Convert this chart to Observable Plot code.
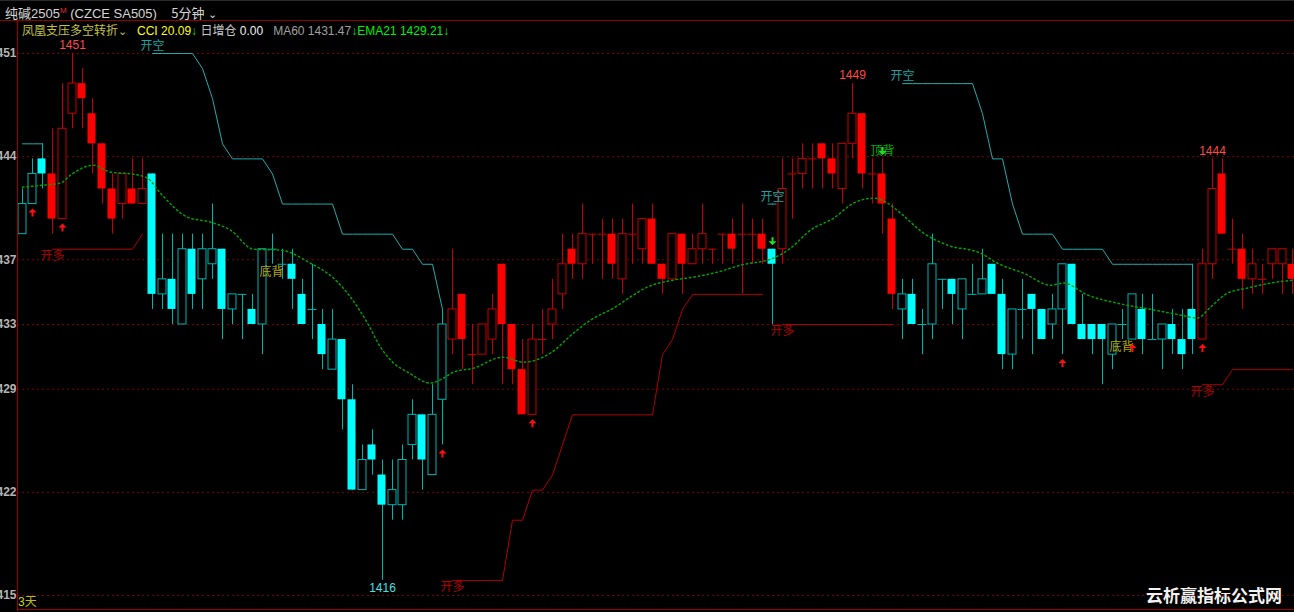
<!DOCTYPE html>
<html>
<head>
<meta charset="utf-8">
<script src="https://cdn.jsdelivr.net/npm/d3@7"></script>
<script src="https://cdn.jsdelivr.net/npm/@observablehq/plot@0.6"></script>
<style>
  html, body { margin: 0; padding: 0; background: #000; }
  #wrap { position: relative; width: 1294px; height: 612px; overflow: hidden; background: #000;
          font-family: "Liberation Sans", "Noto Sans CJK SC", sans-serif; }
  #chart { position: absolute; left: 0; top: 0; }
  .abs { position: absolute; white-space: nowrap; }
  #hdr { left: 5px; top: 3px; font-size: 13px; color: #d6d6d6; line-height: 16px; }
  #hdr sup { color: #e03030; font-size: 8px; vertical-align: 5px; }
  #legend { left: 22px; top: 22px; font-size: 12px; line-height: 16px; }
  #topline { left: 0; top: 20px; width: 1294px; height: 1px; background: #8c0000; }
  #leftline { left: 17px; top: 20px; width: 1px; height: 591px; background: #9a0000; }
  #botline { left: 17px; top: 609px; width: 1277px; height: 1px; background: #9a0000; }
  #topedge { left: 0; top: 0; width: 1294px; height: 1px; background: #2a2a2a; }
  #days { left: 18px; top: 594px; font-size: 12px; color: #d2d200; line-height: 14px; }
  #wm { left: 1146px; top: 585px; font-size: 17px; font-weight: 700; color: #f2f2f2;
        font-family: "Noto Sans CJK SC", sans-serif; line-height: 20px; letter-spacing: 0px; }
</style>
</head>
<body>
<div id="wrap">
  <div id="chart"></div>
  <div id="topedge" class="abs"></div>
  <div id="hdr" class="abs"><span style="font-family:'Noto Sans CJK SC'">纯碱</span>2505<sup>M</sup> (CZCE SA505)&nbsp;&nbsp;&nbsp;&nbsp;<span style="font-family:'Noto Sans CJK SC'">5分钟</span> <span style="font-size:11px">&#8964;</span></div>
  <div id="topline" class="abs"></div>
  <div id="leftline" class="abs"></div>
  <div id="botline" class="abs"></div>
  <div id="legend" class="abs"><span style="color:#c4c44a;font-family:'Noto Sans CJK SC'">凤凰支压多空转折</span><span style="color:#c4c44a;font-size:11px">&#8964;</span>&nbsp;&nbsp;&nbsp;<span style="color:#ffff00">CCI 20.09</span><span style="color:#00e000">&#8595;</span>&nbsp;<span style="color:#c8c8c8;font-family:'Noto Sans CJK SC'">日增仓</span> <span style="color:#f0f0f0">0.00</span>&nbsp;&nbsp;&nbsp;<span style="color:#a0a0a0">MA60 1431.47</span><span style="color:#00e000">&#8595;</span><span style="color:#00f000">EMA21 1429.21</span><span style="color:#00e000">&#8595;</span></div>
  <div id="days" class="abs">3<span style="font-family:'Noto Sans CJK SC';color:#bcbc00">天</span></div>
  <div id="wm" class="abs">云析赢指标公式网</div>
</div>
<script>
// ---------- data (5-minute bars, index 1..128) ----------
const opens = [
  1439,1441,1444,1443,1440,1447,1449,1447,1445,1442,
  1441,1442,1441,1443,1435,1436,1433,1438,1436,1437,
  1438,1434,1435,1434,1433,1438,1437,1437,1435,1434,
  1433,1430,1432,1428,1422,1425,1423,1421,1421,1425,
  1427,1423,1428,1432,1435,1431,1431,1432,1437,1433,
  1430,1427,1432,1433,1435,1438,1437,1439,1439,1439,
  1436,1439,1438,1440,1437,1436,1439,1437,1438,1438,
  1439,1439,1439,1439,1439,1438,1438,1443,1443,1444,
  1445,1444,1442,1445,1447,1443,1443,1440,1434,1435,
  1433,1433,1436,1436,1434,1435,1435,1437,1435,1431,
  1434,1435,1434,1433,1434,1437,1433,1433,1433,1431,
  1433,1432,1434,1432,1432,1433,1432,1434,1432,1437,
  1443,1438,1438,1436,1436,1437,1437,1437];
const highs = [
  1442,1444,1445,1446,1449,1451,1450,1448,1445,1443,
  1443,1444,1444,1443,1439,1439,1439,1439,1439,1441,
  1438,1435,1435,1435,1438,1439,1438,1438,1436,1437,
  1434,1434,1432,1429,1425,1426,1424,1424,1425,1428,
  1427,1429,1434,1438,1435,1433,1433,1435,1437,1433,
  1432,1433,1434,1436,1439,1439,1441,1439,1440,1440,
  1440,1441,1440,1441,1437,1439,1439,1439,1441,1438,
  1439,1440,1441,1440,1440,1438,1444,1444,1445,1445,
  1445,1445,1445,1449,1447,1444,1444,1441,1436,1436,
  1434,1439,1436,1436,1436,1437,1438,1437,1436,1434,
  1436,1435,1434,1435,1437,1437,1435,1433,1433,1433,
  1434,1435,1435,1435,1433,1434,1434,1437,1438,1444,
  1444,1440,1439,1438,1437,1438,1438,1438];
const lows = [
  1439,1441,1442,1439,1440,1446,1446,1443,1441,1439,
  1440,1441,1441,1434,1434,1433,1433,1434,1434,1436,
  1432,1433,1432,1433,1431,1437,1436,1434,1433,1432,
  1430,1430,1426,1422,1422,1423,1416,1420,1420,1424,
  1422,1423,1425,1431,1430,1429,1431,1431,1429,1429,
  1427,1427,1431,1432,1434,1436,1436,1437,1436,1436,
  1435,1437,1437,1437,1435,1436,1435,1437,1437,1437,
  1437,1437,1435,1437,1437,1433,1437,1440,1442,1442,
  1442,1442,1441,1444,1442,1441,1439,1434,1432,1433,
  1431,1432,1434,1433,1432,1435,1435,1435,1430,1430,
  1432,1431,1432,1432,1431,1433,1432,1431,1429,1430,
  1432,1432,1431,1432,1430,1431,1430,1431,1432,1436,
  1439,1437,1434,1435,1435,1436,1435,1435];
const closes = [
  1441,1443,1443,1440,1446,1449,1448,1445,1442,1440,
  1443,1441,1442,1435,1436,1434,1438,1435,1438,1438,
  1434,1435,1435,1433,1438,1438,1437,1436,1433,1434,
  1431,1432,1428,1422,1424,1424,1421,1422,1424,1427,
  1424,1427,1433,1434,1432,1431,1433,1434,1433,1430,
  1427,1432,1432,1434,1437,1437,1439,1439,1439,1437,
  1439,1439,1440,1437,1436,1439,1437,1438,1439,1438,
  1439,1438,1439,1439,1438,1437,1442,1443,1444,1444,
  1444,1443,1445,1447,1443,1443,1441,1435,1435,1433,
  1433,1437,1436,1435,1436,1435,1436,1435,1431,1434,
  1434,1434,1432,1434,1437,1433,1432,1432,1432,1433,
  1433,1435,1432,1432,1433,1432,1431,1432,1437,1442,
  1439,1438,1436,1437,1436,1438,1438,1436];
// indicator regime per bar: R = long (red), C = short (cyan)
const regime = "CCCRRRRRRRRRRCCCCCCCCCCCCCCCCCCCCCCCCCCCCCCRRRRRRRRRRRRRRRRRRRRRRRRRRRRRRRRCRRRRRRRRRRRRCCCCCCCCCCCCCCCCCCCCCCCCCCCCCCRRRRRRRRRR";

// EMA21 (dotted green) read at bar positions
const emaIdx = [1,3,4.8,5.8,8.1,9.8,12.1,13.5,14.8,17.5,19.8,21.8,24.1,26.8,29.8,32.1,33.5,35.5,36.8,38.1,39.5,41.8,43.1,44.1,46.1,49,51.1,53.8,56.1,57.8,60.1,62.1,63.5,66.1,68.1,70.5,72.8,76.1,77.8,79.8,82.1,84.1,86.1,87.5,88.8,91.1,93.5,96.8,98.5,101.1,103.8,105.1,107.5,110.8,114.1,116.8,118.5,119.8,121.5,123.5,125.8,128.1];
const emaVal = [1442.12,1442.25,1442.39,1442.92,1443.58,1443.12,1442.98,1442.72,1441.72,1440.13,1439.8,1439.27,1438.0,1437.94,1437.07,1436.08,1435.08,1433.09,1431.5,1430.44,1429.84,1429.11,1429.44,1429.84,1430.1,1430.83,1430.5,1431.1,1432.43,1433.29,1434.09,1434.96,1435.49,1435.95,1436.15,1436.48,1436.94,1437.41,1438.07,1439.27,1440.06,1441.06,1441.39,1441.06,1440.4,1439.07,1438.27,1437.74,1437.07,1436.41,1435.61,1435.75,1434.96,1434.37,1433.97,1433.63,1433.43,1434.16,1435.08,1435.42,1435.75,1435.95];

// stop lines: short (开空, cyan) and long (开多, red), each with its first bar
const shortStops = [
  {start: 1,  label: false, values: [1445,1445,1445]},
  {start: 14, label: true,  values: [1451,1451,1451,1451,1451,1450,1448,1445,1444,1444,1444,1444,1443,1441,1441,1441,1441,1441,1441,1439,1439,1439,1439,1439,1439,1438,1438,1437,1437,1434]},
  {start: 76, label: true,  values: [1441]},
  {start: 89, label: true,  values: [1449,1449,1449,1449,1449,1449,1449,1449,1447,1444,1444,1441,1439,1439,1439,1439,1438,1438,1438,1438,1438,1437,1437,1437,1437,1437,1437,1437,1437,1437]}
];
const longStops = [
  {start: 4,   values: [1438,1438,1438,1438,1438,1438,1438,1438,1438,1439]},
  {start: 44,  values: [1416,1416,1416,1416,1416,1416,1420,1420,1422,1422,1423,1425,1427,1427,1427,1427,1427,1427,1427,1427,1427,1431,1432,1434,1435,1435,1435,1435,1435,1435,1435,1435]},
  {start: 77,  values: [1433,1433,1433,1433,1433,1433,1433,1433,1433,1433,1433,1433]},
  {start: 119, values: [1429,1429,1429,1430,1430,1430,1430,1430,1430,1430]}
];

// signals (bar indices)
const highLabelBars = [6, 84, 120];
const lowLabelBars = [37];
const buyArrowBars = [2, 5, 43, 52, 105, 112, 119];
const sellArrowBars = [76, 87];
const bottomDivBars = [26, 111];   // 底背
const topDivBars = [87];           // 顶背

// axis grid values and labels
const gridValues = [1451, 1444.15, 1437.3, 1433, 1428.7, 1421.85, 1415];

// ---------- build ----------
const RED = "#ff0000", RED_LINE = "#c40000";
const CYAN = "#00ffff", CYAN_LINE = "#00b2b2";

const bars = opens.map((o, k) => ({
  i: k + 1, o, h: highs[k], l: lows[k], c: closes[k], up: regime[k] === "R"
}));
const filled = bars.filter(d => d.c < d.o);
const hollow = bars.filter(d => d.c > d.o);
const doji = bars.filter(d => d.c === d.o);

const ema = emaIdx.map((i, k) => ({i, v: emaVal[k]}));
const shortPts = shortStops.flatMap((s, si) => s.values.map((v, k) => ({seg: si, i: s.start + k, v})));
const longPts = longStops.flatMap((s, si) => s.values.map((v, k) => ({seg: si, i: s.start + k, v})));
const shortSingles = shortStops.filter(s => s.values.length === 1).map(s => ({i: s.start, v: s.values[0]}));
const shortLabels = shortStops.filter(s => s.label).map(s => ({i: s.start, v: s.values[0]}));
const longLabels = longStops.map(s => ({i: s.start, v: s.values[0]}));

const byBar = idx => idx.map(i => bars[i - 1]);
const lineCol = d => d.up ? RED_LINE : CYAN_LINE;
const fillCol = d => d.up ? RED : CYAN;

// arrow glyphs as symbols (thick head + stem)
const arrowUp = {draw(ctx) {
  ctx.moveTo(0, -4); ctx.lineTo(4, 0); ctx.lineTo(1, 0); ctx.lineTo(1, 4);
  ctx.lineTo(-1, 4); ctx.lineTo(-1, 0); ctx.lineTo(-4, 0); ctx.closePath();
}};
const arrowDown = {draw(ctx) {
  ctx.moveTo(0, 4); ctx.lineTo(4, 0); ctx.lineTo(1, 0); ctx.lineTo(1, -4);
  ctx.lineTo(-1, -4); ctx.lineTo(-1, 0); ctx.lineTo(-4, 0); ctx.closePath();
}};

const cjk = "Noto Sans CJK SC";

const plot = Plot.plot({
  width: 1294,
  height: 612,
  marginLeft: 17,
  marginRight: 0,
  marginTop: 53,
  marginBottom: 17,
  style: {background: "transparent", fontFamily: "Liberation Sans, sans-serif", overflow: "visible"},
  color: {type: "identity"},
  x: {domain: [0.5, 128.2], axis: null},
  y: {domain: [1415, 1451], axis: null},
  marks: [
    Plot.ruleY(gridValues, {stroke: "#7c0000", strokeDasharray: "2,3"}),
    Plot.axisY({ticks: gridValues, tickSize: 0, tickPadding: 1, tickFormat: d => String(Math.round(d)),
      fill: "#b4b4b4", fontSize: 12, fontWeight: "bold", label: null}),
    // stop lines
    Plot.line(longPts, {x: "i", y: "v", z: "seg", stroke: "#b00000", strokeWidth: 1}),
    Plot.line(shortPts, {x: "i", y: "v", z: "seg", stroke: "#20adad", strokeWidth: 1}),
    Plot.ruleY(shortSingles, {y: "v", x1: d => d.i - 0.45, x2: d => d.i + 0.45, stroke: "#20adad"}),
    // candles
    Plot.ruleX(bars, {x: "i", y1: "l", y2: "h", stroke: lineCol}),
    Plot.rect(filled, {x1: d => d.i - 0.4, x2: d => d.i + 0.4, y1: "o", y2: "c", fill: fillCol, dx: -0.5}),
    Plot.rect(hollow, {x1: d => d.i - 0.4, x2: d => d.i + 0.4, y1: "o", y2: "c", fill: "#000", stroke: lineCol}),
    Plot.ruleY(doji, {y: "c", x1: d => d.i - 0.45, x2: d => d.i + 0.45, stroke: lineCol}),
    // EMA21
    Plot.line(ema, {x: "i", y: "v", stroke: "#00a000", strokeDasharray: "1.5,3", curve: "monotone-x"}),
    // stop labels
    Plot.text(shortLabels, {x: "i", y: "v", text: () => "开空", dy: -7, fill: "#1fa3a3", fontSize: 12, fontFamily: cjk}),
    Plot.text(longLabels, {x: "i", y: "v", text: () => "开多", dy: 7, fill: "#b00000", fontSize: 12, fontFamily: cjk}),
    // high / low values
    Plot.text(byBar(highLabelBars), {x: "i", y: "h", text: d => String(d.h), dy: -8, fill: "#ff4848", fontSize: 12}),
    Plot.text(byBar(lowLabelBars), {x: "i", y: "l", text: d => String(d.l), dy: 8, fill: "#40e0e0", fontSize: 12}),
    // divergence labels
    Plot.text(byBar(bottomDivBars), {x: "i", y: "l", text: () => "底背", dy: 8, dx: -1, fill: "#b4a800", fontSize: 12, fontFamily: cjk}),
    Plot.text(byBar(topDivBars), {x: "i", y: "h", text: () => "顶背", dy: -8, fill: "#00b000", fontSize: 12, fontFamily: cjk}),
    // arrows
    Plot.dot(byBar(buyArrowBars), {x: "i", y: "l", symbol: arrowUp, r: 4, fill: "#ff1010", stroke: "none", dy: 8.5}),
    Plot.dot(byBar(sellArrowBars), {x: "i", y: "h", symbol: arrowDown, r: 4, fill: "#20e020", stroke: "none", dy: -8})
  ]
});
document.getElementById("chart").appendChild(plot);
</script>
</body>
</html>
